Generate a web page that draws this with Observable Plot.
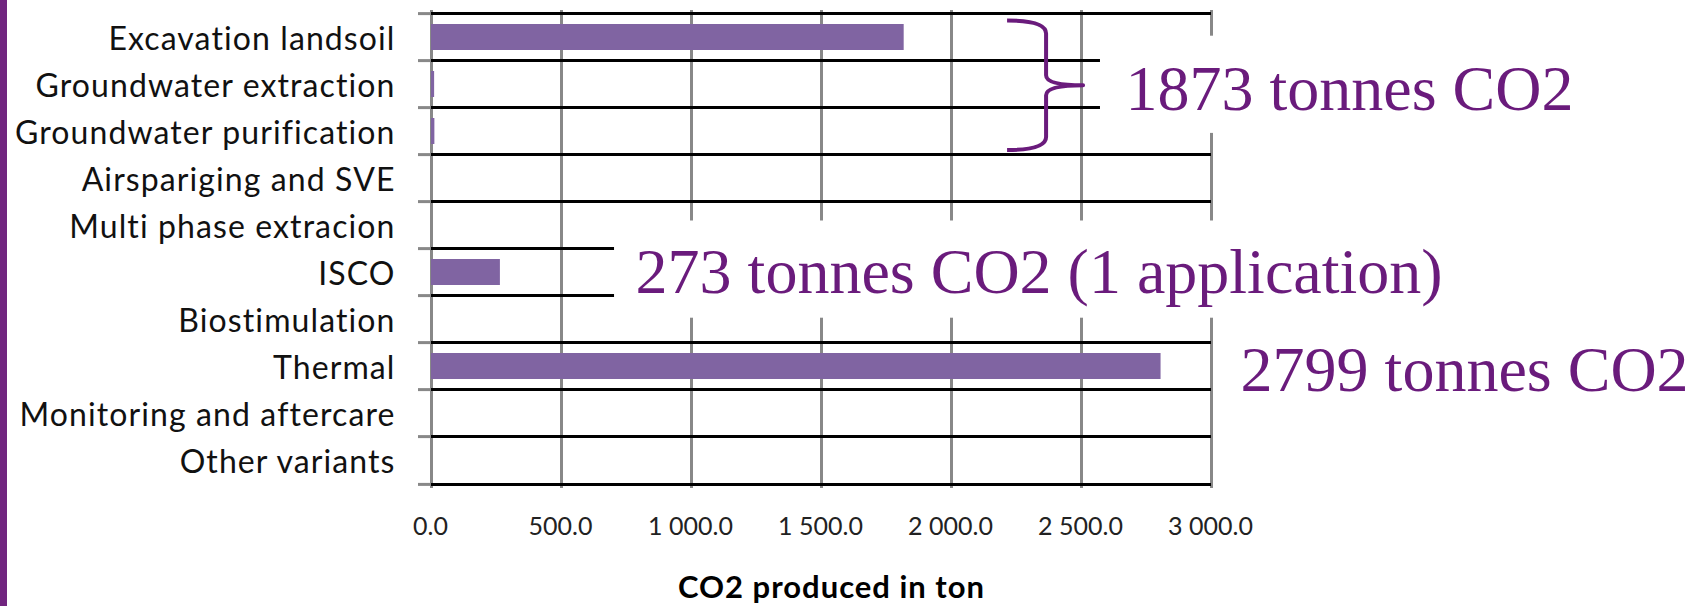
<!DOCTYPE html>
<html><head><meta charset="utf-8">
<script src="https://cdn.jsdelivr.net/npm/d3@7"></script>
<script src="https://cdn.jsdelivr.net/npm/@observablehq/plot@0.6"></script>
<style>
html,body{margin:0;padding:0;background:#fff;}
#wrap{position:relative;width:1698px;height:606px;overflow:hidden;background:#fff;}
#edge{position:absolute;left:0;top:0;width:7px;height:606px;background:#71257f;}
</style></head><body><div id="wrap"><div id="edge"></div></div>
<script>
// ---- data ----
const categories = ["Excavation landsoil", "Groundwater extraction", "Groundwater purification", "Airspariging and SVE", "Multi phase extracion", "ISCO", "Biostimulation", "Thermal", "Monitoring and aftercare", "Other variants"];
const co2Tons = [1818, 12, 13, 0, 0, 265, 0, 2806, 0, 0];
const xTicks = [0, 500, 1000, 1500, 2000, 2500, 3000];
const xTickLabels = ["0.0", "500.0", "1 000.0", "1 500.0", "2 000.0", "2 500.0", "3 000.0"];
const axisTitle = "CO2 produced in ton";
const annotationLabels = ["1873 tonnes CO2", "273 tonnes CO2 (1 application)", "2799 tonnes CO2"];
const annotationRows = ["Groundwater extraction", "ISCO", "Thermal"];
const annotationX = [2669, 785, 3112];
const braceRows = ["Excavation landsoil", "Groundwater purification"];
const braceTipX = 2508;

// ---- layout ----
const W = 1698, H = 606, mL = 431, mR = 487, mT = 10, mB = 118;
const step = (H - mT - mB) / categories.length;
const purple = "#6a1b7c";
const table = categories.map((c, i) => ({category: c, value: co2Tons[i]}));

function braceMark(index, scales) {
  const x = scales.x, y = scales.y;
  const bw = typeof y.bandwidth === "function" ? y.bandwidth() : (y.bandwidth || 0);
  const top = y(braceRows[0]) - 3.5;
  const bot = y(braceRows[1]) + bw + 6;
  const tipX = x(braceTipX);
  const midY = (top + bot) / 2;
  const spine = tipX - 37, left = tipX - 76;
  const d = `M${left},${top} Q${spine},${top} ${spine},${top + 13} L${spine},${midY - 10} Q${spine},${midY} ${tipX},${midY} Q${spine},${midY} ${spine},${midY + 10} L${spine},${bot - 13} Q${spine},${bot} ${left},${bot}`;
  const g = d3.create("svg:g");
  g.append("path").attr("d", d).attr("fill", "none").attr("stroke", purple).attr("stroke-width", 4).attr("stroke-linejoin", "round");
  return g.node();
}

const annDy = [5, 0, 4];

const chart = Plot.plot({
  width: W, height: H,
  marginLeft: mL, marginRight: mR, marginTop: mT, marginBottom: mB,
  x: {domain: [0, 3000], axis: null},
  y: {domain: categories, axis: null, paddingInner: 0.44, paddingOuter: 0.22},
  style: {background: "#fff", fontFamily: "Lato, sans-serif", overflow: "visible"},
  marks: [
    Plot.ruleX(xTicks, {x: d => d, stroke: "#888", strokeWidth: 3}),
    Plot.ruleY(categories, {y: d => d, x1: 0, x2: 3000, dy: -step / 2, stroke: "#000", strokeWidth: 3}),
    Plot.ruleY(categories.slice(-1), {y: d => d, x1: 0, x2: 3000, dy: step / 2, stroke: "#000", strokeWidth: 3}),
    Plot.ruleY(categories, {y: d => d, x1: -50, x2: 0, dy: -step / 2, stroke: "#888", strokeWidth: 3}),
    Plot.ruleY(categories.slice(-1), {y: d => d, x1: -50, x2: 0, dy: step / 2, stroke: "#888", strokeWidth: 3}),
    Plot.barX(table, {x: "value", y: "category", fill: "#8064A2"}),
    // annotation text boxes (white) that hide the grid behind them
    Plot.barX([annotationRows[0]], {y: d => d, x1: 2573, x2: 3400, fill: "#fff", insetTop: -35.3, insetBottom: -35.9}),
    Plot.barX([annotationRows[1]], {y: d => d, x1: 704, x2: 3950, fill: "#fff", insetTop: -38.5, insetBottom: -32.7}),
    braceMark,
    ...annotationLabels.map((t, i) => Plot.text([t], {x: () => annotationX[i], y: () => annotationRows[i], text: d => d, textAnchor: "start", dy: annDy[i], fill: purple, fontSize: 64, fontFamily: "Liberation Serif, Times New Roman, serif"})),
    Plot.text(categories, {x: 0, y: d => d, text: d => d, textAnchor: "end", dx: -36, dy: 2, fontSize: 32, fill: "#111", fontFamily: "Lato, sans-serif"}),
    Plot.text(xTicks, {x: d => d, text: (d, i) => xTickLabels[i], frameAnchor: "bottom", lineAnchor: "middle", dy: 38.5, dx: -1, fontSize: 25, fill: "#222", fontFamily: "Lato, sans-serif"}),
    Plot.text([axisTitle], {text: d => d, frameAnchor: "bottom", lineAnchor: "middle", dx: 10, dy: 100, fontSize: 31, fontWeight: "bold", fill: "#000", fontFamily: "Lato, sans-serif"})
  ]
});
chart.querySelectorAll("text").forEach(t => {
  const s = t.textContent;
  if (categories.includes(s)) t.style.letterSpacing = "1.1px";
  if (s === axisTitle) t.style.letterSpacing = "1px";
});
document.getElementById("wrap").insertBefore(chart, document.getElementById("edge"));
</script>
</body></html>
